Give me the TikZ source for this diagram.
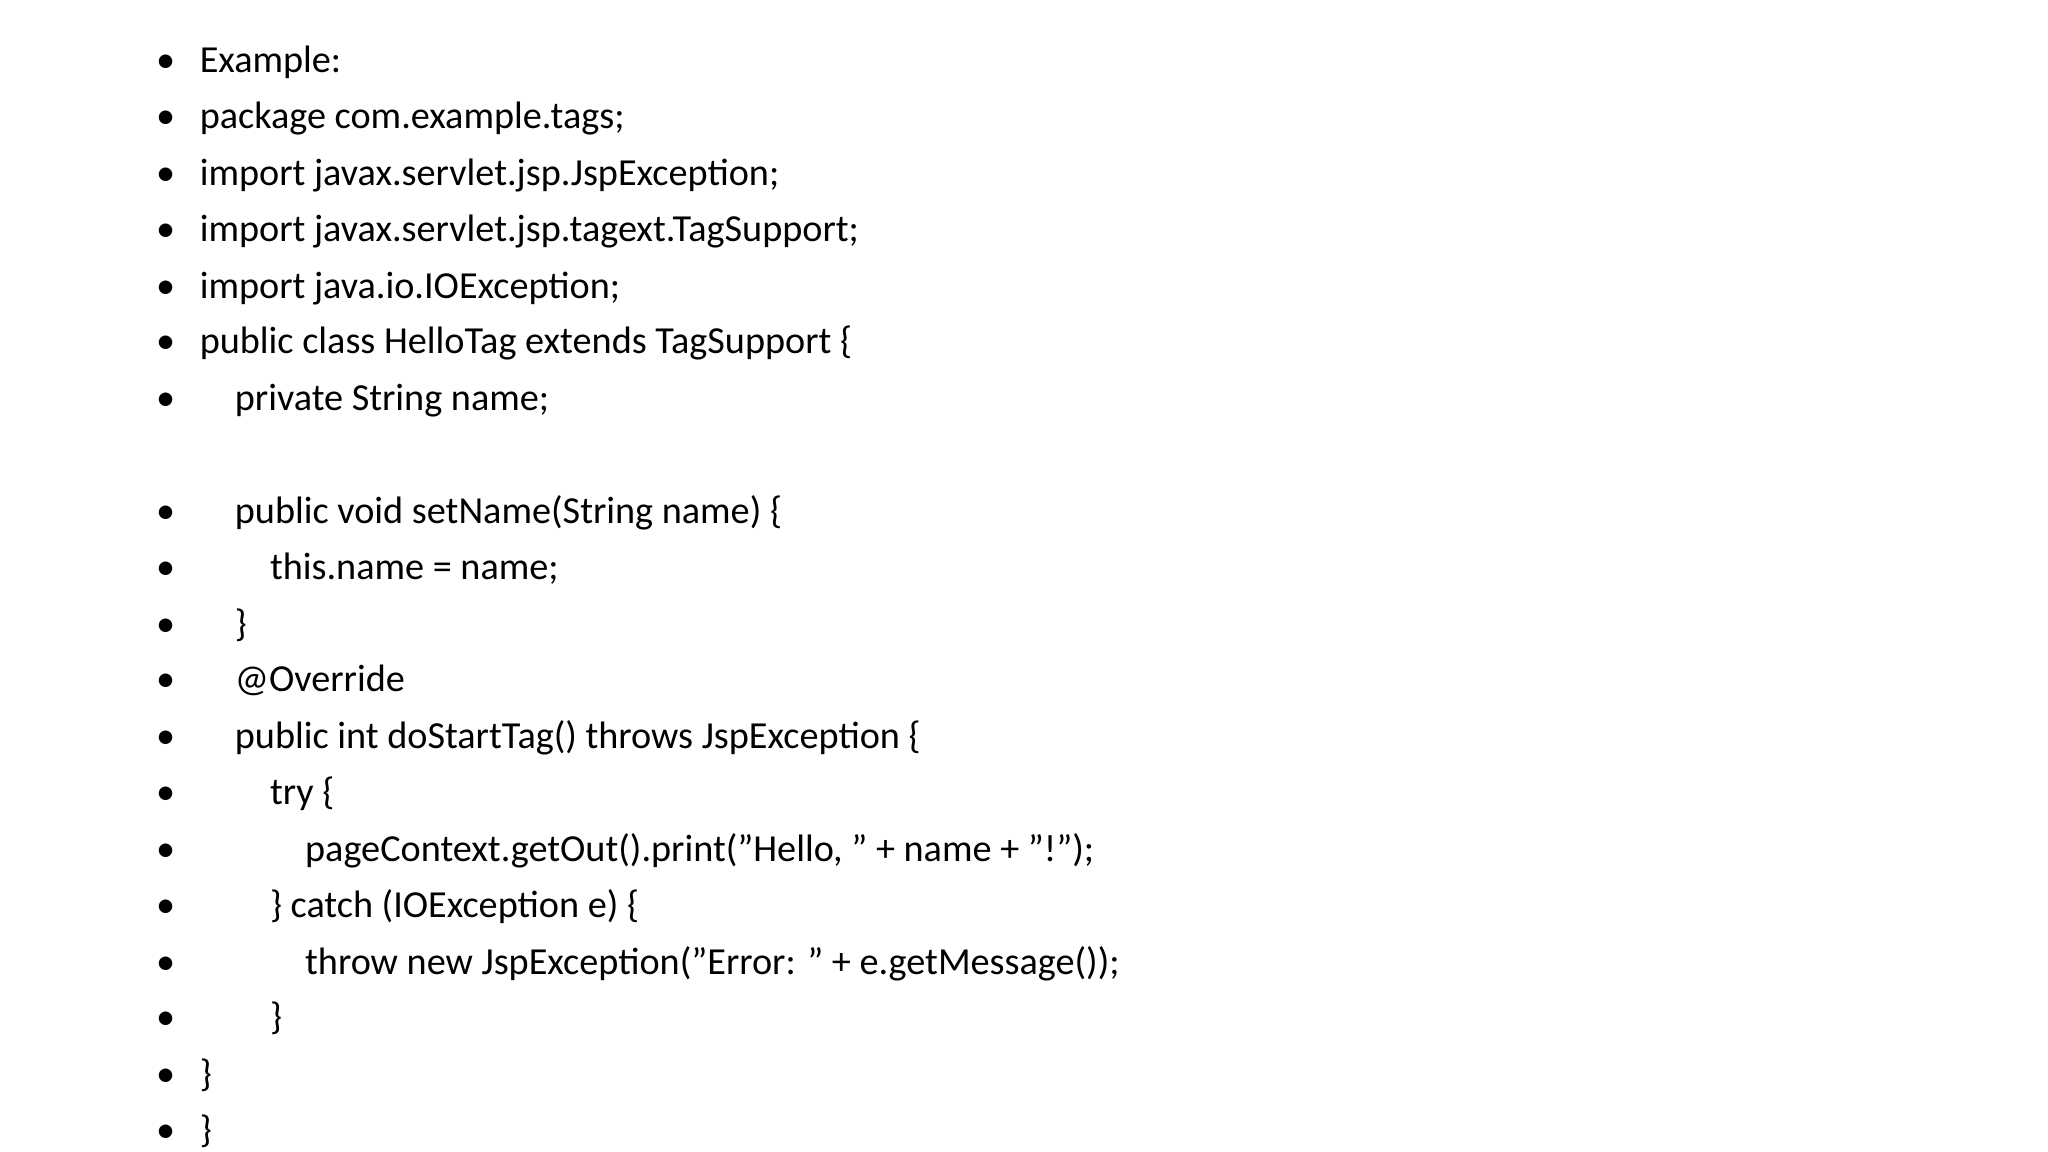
\documentclass[tikz,border=0pt]{standalone}
\usepackage{fontspec}
\setmainfont{Carlito}
\begin{document}
\begin{tikzpicture}[x=0.01cm,y=-0.01cm,
  ln/.style={anchor=base west,inner sep=0pt,font=\fontsize{8.2pt}{10pt}\selectfont},
  bul/.style={anchor=base,inner sep=0pt,font=\fontsize{8.2pt}{10pt}\selectfont}]
\useasboundingbox[fill=white] (0,0) rectangle (1545,869);
\foreach \y/\lvl/\t [count=\i] in {
 46/0/{Example:},
 88/0/{package com.example.tags;},
 131/0/{import javax.servlet.jsp.JspException;},
 173/0/{import javax.servlet.jsp.tagext.TagSupport;},
 216/0/{import java.io.IOException;},
 258/0/{public class HelloTag extends TagSupport \{},
 301/1/{private String name;},
 386/1/{public void setName(String name) \{},
 428/2/{this.name = name;},
 471/1/{\}},
 513/1/{@Override},
 556/1/{public int doStartTag() throws JspException \{},
 598/2/{try \{},
 641/3/{pageContext.getOut().print("Hello, " + name + "!");},
 683/2/{\} catch (IOException e) \{},
 726/3/{throw new JspException("Error: " + e.getMessage());},
 768/2/{\}},
 811/0/{\}},
 853/0/{\}}}{
  \node[ln] (t\i) at ({150+26.5*\lvl},\y+9) {\t};
  \node[bul] (b\i) at (125,\y+9) {•};
}
\end{tikzpicture}
\end{document}
